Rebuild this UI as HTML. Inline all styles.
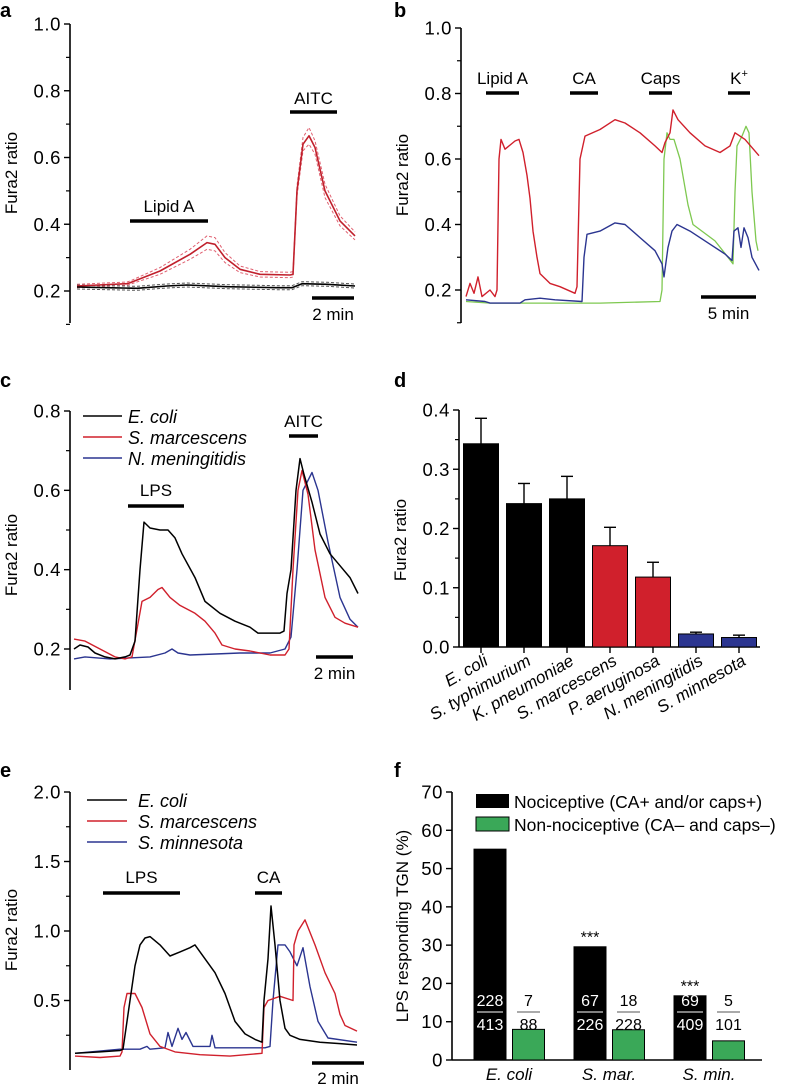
<!DOCTYPE html>
<html><head><meta charset="utf-8"><style>
body{margin:0;background:#fff}
svg{display:block;font-family:"Liberation Sans",sans-serif}
</style></head><body>
<svg id="fig" width="788" height="1086" viewBox="0 0 788 1086" xmlns="http://www.w3.org/2000/svg"></svg>
<script>
// ---------- Panel a ----------
const aRedT=[0,50,53,83,113,130,138,148,163,183,213,216,220,226,232,238,248,263,278];
const aRedV=[0.215,0.222,0.225,0.26,0.31,0.345,0.34,0.30,0.265,0.25,0.248,0.25,0.5,0.64,0.665,0.63,0.5,0.41,0.365];
const aRedSem=[0.005,0.005,0.005,0.01,0.015,0.02,0.02,0.015,0.01,0.008,0.008,0.008,0.015,0.02,0.025,0.02,0.02,0.015,0.012];
const aBlkT=[0,30,60,90,110,150,200,215,225,250,278];
const aBlkV=[0.212,0.21,0.208,0.215,0.218,0.213,0.21,0.21,0.222,0.22,0.215];
const aBlkSem=[0.006,0.006,0.006,0.006,0.006,0.006,0.006,0.006,0.006,0.006,0.006];
const aTicks=["0.2","0.4","0.6","0.8","1.0"];
// ---------- Panel b ----------
const bRedT=[0,4,8,12,16,24,29,31,33,35,39,49,53,57,61,64,67,71,74,84,94,109,111,114,119,134,149,159,174,189,196,199,204,207,212,224,239,254,264,269,279,293];
const bRedV=[0.18,0.22,0.19,0.24,0.18,0.2,0.18,0.2,0.6,0.66,0.63,0.655,0.66,0.62,0.55,0.48,0.38,0.3,0.25,0.22,0.21,0.19,0.21,0.6,0.67,0.69,0.72,0.71,0.68,0.64,0.62,0.65,0.68,0.75,0.72,0.68,0.64,0.62,0.64,0.68,0.66,0.61];
const bBluT=[0,19,24,34,54,59,74,89,116,118,121,134,149,159,174,189,196,198,202,206,211,224,244,259,266,268,272,275,278,282,286,293];
const bBluV=[0.17,0.165,0.16,0.16,0.16,0.17,0.175,0.17,0.165,0.3,0.37,0.38,0.405,0.4,0.36,0.32,0.28,0.24,0.33,0.38,0.4,0.38,0.34,0.31,0.29,0.38,0.39,0.33,0.39,0.36,0.3,0.26];
const bGrnT=[0,24,117,134,194,196,198,201,204,208,214,222,227,249,262,267,269,271,276,280,283,286,290,292];
const bGrnV=[0.165,0.16,0.16,0.16,0.165,0.2,0.6,0.68,0.66,0.66,0.6,0.46,0.4,0.35,0.3,0.28,0.5,0.64,0.67,0.7,0.68,0.5,0.35,0.32];
const bTicks=["0.2","0.4","0.6","0.8","1.0"];
// ---------- Panel c ----------
const cBlkT=[0,6,14,21,31,41,51,56,61,66,70,76,86,94,101,108,121,131,146,161,176,184,196,206,210,213,217,222,226,230,238,246,256,266,276,284];
const cBlkV=[0.2,0.21,0.205,0.19,0.18,0.175,0.18,0.185,0.22,0.4,0.52,0.505,0.5,0.5,0.48,0.44,0.38,0.32,0.29,0.27,0.255,0.24,0.24,0.24,0.245,0.34,0.4,0.6,0.68,0.64,0.57,0.49,0.44,0.41,0.38,0.34];
const cRedT=[0,11,26,41,51,58,63,68,76,84,88,96,106,121,131,141,148,161,176,196,211,215,219,224,228,234,241,251,261,271,284];
const cRedV=[0.225,0.22,0.2,0.18,0.175,0.18,0.25,0.32,0.33,0.35,0.355,0.33,0.31,0.29,0.27,0.24,0.21,0.2,0.195,0.185,0.185,0.2,0.4,0.6,0.65,0.59,0.45,0.33,0.28,0.265,0.255];
const cBluT=[0,11,36,76,91,98,104,116,166,196,211,217,223,229,238,244,254,266,276,284];
const cBluV=[0.175,0.18,0.175,0.18,0.19,0.2,0.19,0.185,0.19,0.19,0.2,0.23,0.4,0.6,0.645,0.6,0.47,0.33,0.275,0.255];
const cTicks=["0.2","0.4","0.6","0.8"];
const cLegend=["E. coli","S. marcescens","N. meningitidis"];
// ---------- Panel d ----------
const dCats=["E. coli","S. typhimurium","K. pneumoniae","S. marcescens","P. aeruginosa","N. meningitidis","S. minnesota"];
const dVals=[0.343,0.242,0.250,0.171,0.118,0.022,0.016];
const dErrs=[0.043,0.034,0.038,0.031,0.025,0.003,0.004];
const dColors=["#000","#000","#000","#d0202c","#d0202c","#2b3590","#2b3590"];
const dTicks=["0.0","0.1","0.2","0.3","0.4"];
// ---------- Panel e ----------
const eBlkT=[0,25,45,48,51,55,60,65,70,75,85,95,105,115,120,130,140,150,160,170,180,187,189,193,196,200,205,210,215,225,245,265,282];
const eBlkV=[0.12,0.13,0.14,0.15,0.3,0.5,0.75,0.9,0.95,0.96,0.9,0.82,0.85,0.88,0.9,0.8,0.7,0.55,0.35,0.26,0.22,0.2,0.5,0.8,1.18,0.9,0.5,0.3,0.25,0.22,0.2,0.19,0.18];
const eRedT=[0,25,45,47,49,52,60,67,75,85,100,125,155,187,189,193,205,218,219,223,230,240,250,260,265,270,282];
const eRedV=[0.1,0.09,0.1,0.13,0.45,0.55,0.55,0.45,0.26,0.17,0.13,0.11,0.1,0.12,0.45,0.5,0.53,0.5,0.9,1.0,1.08,0.9,0.7,0.55,0.4,0.32,0.28];
const eBluT=[0,45,65,72,75,90,93,97,103,107,111,118,135,137,140,190,195,198,203,210,215,222,228,235,243,253,282];
const eBluV=[0.12,0.15,0.15,0.17,0.15,0.16,0.27,0.17,0.3,0.22,0.27,0.17,0.17,0.25,0.16,0.16,0.17,0.5,0.9,0.9,0.85,0.75,0.88,0.6,0.35,0.23,0.2];
const eTicks=["0.5","1.0","1.5","2.0"];
const eLegend=["E. coli","S. marcescens","S. minnesota"];
// ---------- Panel f ----------
const fCats=["E. coli","S. mar.","S. min."];
const fNoci=[55.2,29.7,16.9];
const fNon=[8.0,7.9,5.0];
const fNociNum=["228","67","69"];
const fNociDen=["413","226","409"];
const fNonNum=["7","18","5"];
const fNonDen=["88","228","101"];
const fStars=["","***","***"];
const fTicks=[0,10,20,30,40,50,60,70];

const NS="http://www.w3.org/2000/svg";
const svg=document.getElementById('fig');
function el(tag,attrs,parent){const e=document.createElementNS(NS,tag);for(const k in attrs)e.setAttribute(k,attrs[k]);(parent||svg).appendChild(e);return e;}
function txt(s,attrs,parent){const e=el('text',attrs,parent);e.textContent=s;return e;}
function lin(d0,d1,r0,r1){return v=>r0+(v-d0)/(d1-d0)*(r1-r0);}
function linePath(T,V,xs,ys){return T.map((t,i)=>(i?'L':'M')+xs(t).toFixed(1)+' '+ys(V[i]).toFixed(1)).join(' ');}

function yAxis(x,yTop,yBot,ys,majors,minors,name,title,titleY,titleX){
  const g=el('g',{});
  
  el('line',{x1:x,y1:yTop,x2:x,y2:yBot,stroke:'#000','stroke-width':1.6},g);
  majors.forEach(m=>{const y=ys(parseFloat(m));el('line',{x1:x-6,y1:y,x2:x,y2:y,stroke:'#000','stroke-width':1.4},g);
    const t=txt(m,{x:x-9,y:y+6.5,'text-anchor':'end','font-size':18.5,'letter-spacing':0.6},g);});
  minors.forEach(m=>{const y=ys(m);el('line',{x1:x-4,y1:y,x2:x,y2:y,stroke:'#000','stroke-width':1.2},g);});
  const t=txt(title,{x:0,y:0,'text-anchor':'middle','font-size':17,transform:`translate(${titleX},${titleY}) rotate(-90)`});
  
}
function bar(x1,x2,y,label,ly,name){
  el('line',{x1:x1,y1:y,x2:x2,y2:y,stroke:'#000','stroke-width':3.5});
  const t=txt(label,{x:(x1+x2)/2,y:ly,'text-anchor':'middle','font-size':17});
  
  return t;
}
function panelLetter(l,x,y){const t=txt(l,{x:x,y:y,'font-size':20,'font-weight':'bold'});}
function trace(T,V,xs,ys,color,w,name,dash){const p=el('path',{d:linePath(T,V,xs,ys),fill:'none',stroke:color,'stroke-width':w,'stroke-linejoin':'round'});if(dash)p.setAttribute('stroke-dasharray',dash);return p;}

// ===== Panel a =====
panelLetter('a',0,17);
{const xs=lin(0,278,77,355), ys=lin(0.2,1.0,291,24);
 yAxis(70,24,323,ys,aTicks,[0.3,0.5,0.7,0.9,0.1],'y-axis-a','Fura2 ratio',173,17);
 trace(aRedT,aRedV.map((v,i)=>v+aRedSem[i]),xs,ys,'#e06070',1,'trace-a-lipidA-sem-upper','3,2');
 trace(aRedT,aRedV.map((v,i)=>v-aRedSem[i]),xs,ys,'#e06070',1,'trace-a-lipidA-sem-lower','3,2');
 trace(aBlkT,aBlkV.map((v,i)=>v+aBlkSem[i]),xs,ys,'#555',1,'trace-a-control-sem-upper','3,2');
 trace(aBlkT,aBlkV.map((v,i)=>v-aBlkSem[i]),xs,ys,'#555',1,'trace-a-control-sem-lower','3,2');
 trace(aRedT,aRedV,xs,ys,'#c0202c',1.6,'trace-a-lipidA');
 trace(aBlkT,aBlkV,xs,ys,'#000',1.6,'trace-a-control');
 bar(130,208,221,'Lipid A',212,'stimulus-lipidA-a');
 bar(290,337,112,'AITC',104,'stimulus-aitc-a');
 bar(312,354,298,'2 min',320,'scale-bar-a');}

// ===== Panel b =====
panelLetter('b',394,17);
{const xs=lin(0,293,466,759), ys=lin(0.2,1.0,290,28);
 yAxis(461,28,323,ys,bTicks,[0.3,0.5,0.7,0.9,0.1],'y-axis-b','Fura2 ratio',175,408);
 trace(bGrnT,bGrnV,xs,ys,'#7ec850',1.3,'trace-b-green');
 trace(bBluT,bBluV,xs,ys,'#2b3590',1.4,'trace-b-blue');
 trace(bRedT,bRedV,xs,ys,'#d0202c',1.4,'trace-b-red');
 bar(486,519,93,'Lipid A',84,'stimulus-lipidA-b');
 bar(570,598,93,'CA',84,'stimulus-ca-b');
 bar(649,672,93,'Caps',84,'stimulus-caps-b');
 const k=bar(728,750,93,'K',84,'stimulus-k-b');const s=el('tspan',{dy:-7,'font-size':11},k);s.textContent='+';
 bar(701,756,297,'5 min',319,'scale-bar-b');}

// ===== Panel c =====
panelLetter('c',0,387);
{const xs=lin(0,284,74,358), ys=lin(0.2,0.8,649,411);
 yAxis(70,411,690,ys,cTicks,[0.3,0.5,0.7],'y-axis-c','Fura2 ratio',555,17);
 trace(cBluT,cBluV,xs,ys,'#2b3590',1.4,'trace-c-n-meningitidis');
 trace(cRedT,cRedV,xs,ys,'#d0202c',1.4,'trace-c-s-marcescens');
 trace(cBlkT,cBlkV,xs,ys,'#000',1.5,'trace-c-e-coli');
 const cols=['#000','#d0202c','#2b3590'];
 cLegend.forEach((s,i)=>{const g=el('g',{});
   el('line',{x1:83,y1:416+i*21,x2:122,y2:416+i*21,stroke:cols[i],'stroke-width':1.5},g);
   txt(s,{x:128,y:423+i*21,'font-size':18,'font-style':'italic'},g);});
 bar(128,184,506,'LPS',496,'stimulus-lps-c');
 bar(289,318,436,'AITC',427,'stimulus-aitc-c');
 bar(316,353,657,'2 min',679,'scale-bar-c');}

// ===== Panel d =====
panelLetter('d',394,387);
{const ys=lin(0,0.4,647,410), cx=i=>481+i*43;
 yAxis(459,410,647,ys,dTicks,[0.05,0.15,0.25,0.35],'y-axis-d','Fura2 ratio',540,406);
 el('line',{x1:459,y1:647,x2:760,y2:647,stroke:'#000','stroke-width':1.6});
 dVals.forEach((v,i)=>{const x=cx(i);
   const r=el('rect',{x:x-17.5,y:ys(v),width:35,height:647-ys(v),fill:dColors[i],stroke:'#000','stroke-width':1});
   
   el('line',{x1:x,y1:ys(v),x2:x,y2:ys(v+dErrs[i]),stroke:'#000','stroke-width':1.4});
   el('line',{x1:x-6,y1:ys(v+dErrs[i]),x2:x+6,y2:ys(v+dErrs[i]),stroke:'#000','stroke-width':1.4});
   el('line',{x1:x,y1:647,x2:x,y2:653,stroke:'#000','stroke-width':1.4});
   const t=txt(dCats[i],{x:0,y:0,'text-anchor':'end','font-size':17,'font-style':'italic',transform:`translate(${x+8},${664}) rotate(-30)`});
   });}

// ===== Panel e =====
panelLetter('e',0,777);
{const xs=lin(0,282,75,357), ys=lin(0,2.0,1070,792);
 yAxis(70,792,1070,ys,eTicks,[0.25,0.75,1.25,1.75],'y-axis-e','Fura2 ratio',930,17);
 trace(eBluT,eBluV,xs,ys,'#2b3590',1.4,'trace-e-s-minnesota');
 trace(eRedT,eRedV,xs,ys,'#d0202c',1.4,'trace-e-s-marcescens');
 trace(eBlkT,eBlkV,xs,ys,'#000',1.5,'trace-e-e-coli');
 const cols=['#000','#d0202c','#2b3590'];
 eLegend.forEach((s,i)=>{const g=el('g',{});
   el('line',{x1:87,y1:800+i*21,x2:127,y2:800+i*21,stroke:cols[i],'stroke-width':1.5},g);
   txt(s,{x:138,y:807+i*21,'font-size':18,'font-style':'italic'},g);});
 bar(103,180,893,'LPS',883,'stimulus-lps-e');
 bar(255,282,893,'CA',883,'stimulus-ca-e');
 bar(312,364,1063,'2 min',1084,'scale-bar-e');}

// ===== Panel f =====
panelLetter('f',394,777);
{const ys=lin(0,70,1060,792), cx=i=>490+i*100;
 yAxis(452,792,1060,ys,fTicks.map(String),[],'y-axis-f','LPS responding TGN (%)',926,408);
 el('line',{x1:452,y1:1060,x2:762,y2:1060,stroke:'#000','stroke-width':1.6});
 fCats.forEach((c,i)=>{const x=cx(i);
   const b1=el('rect',{x:x-16.5,y:ys(fNoci[i]),width:33,height:1060-ys(fNoci[i]),fill:'#000'});
   
   const b2=el('rect',{x:x+22.5,y:ys(fNon[i]),width:32,height:1060-ys(fNon[i]),fill:'#3aa858',stroke:'#000','stroke-width':1});
   
   txt(fNociNum[i],{x:x,y:1006,'text-anchor':'middle','font-size':16,fill:'#fff'});
   el('line',{x1:x-13,y1:1012,x2:x+13,y2:1012,stroke:'#fff','stroke-width':1});
   txt(fNociDen[i],{x:x,y:1030,'text-anchor':'middle','font-size':16,fill:'#fff'});
   txt(fNonNum[i],{x:x+38.5,y:1006,'text-anchor':'middle','font-size':16});
   el('line',{x1:x+27,y1:1012,x2:x+50,y2:1012,stroke:'#555','stroke-width':1});
   txt(fNonDen[i],{x:x+38.5,y:1030,'text-anchor':'middle','font-size':16});
   if(fStars[i])txt(fStars[i],{x:x,y:ys(fNoci[i])-4,'text-anchor':'middle','font-size':16});
   const t=txt(c,{x:x+19,y:1080,'text-anchor':'middle','font-size':17,'font-style':'italic'});
   });
 const l1=el('g',{});
 el('rect',{x:476,y:794,width:33,height:14,fill:'#000'},l1);
 txt('Nociceptive (CA+ and/or caps+)',{x:514,y:808,'font-size':17.5},l1);
 const l2=el('g',{});
 el('rect',{x:476,y:817,width:33,height:14,fill:'#3aa858',stroke:'#000','stroke-width':1},l2);
 txt('Non-nociceptive (CA\u2013 and caps\u2013)',{x:514,y:831,'font-size':17.5},l2);}
</script>
</body></html>
